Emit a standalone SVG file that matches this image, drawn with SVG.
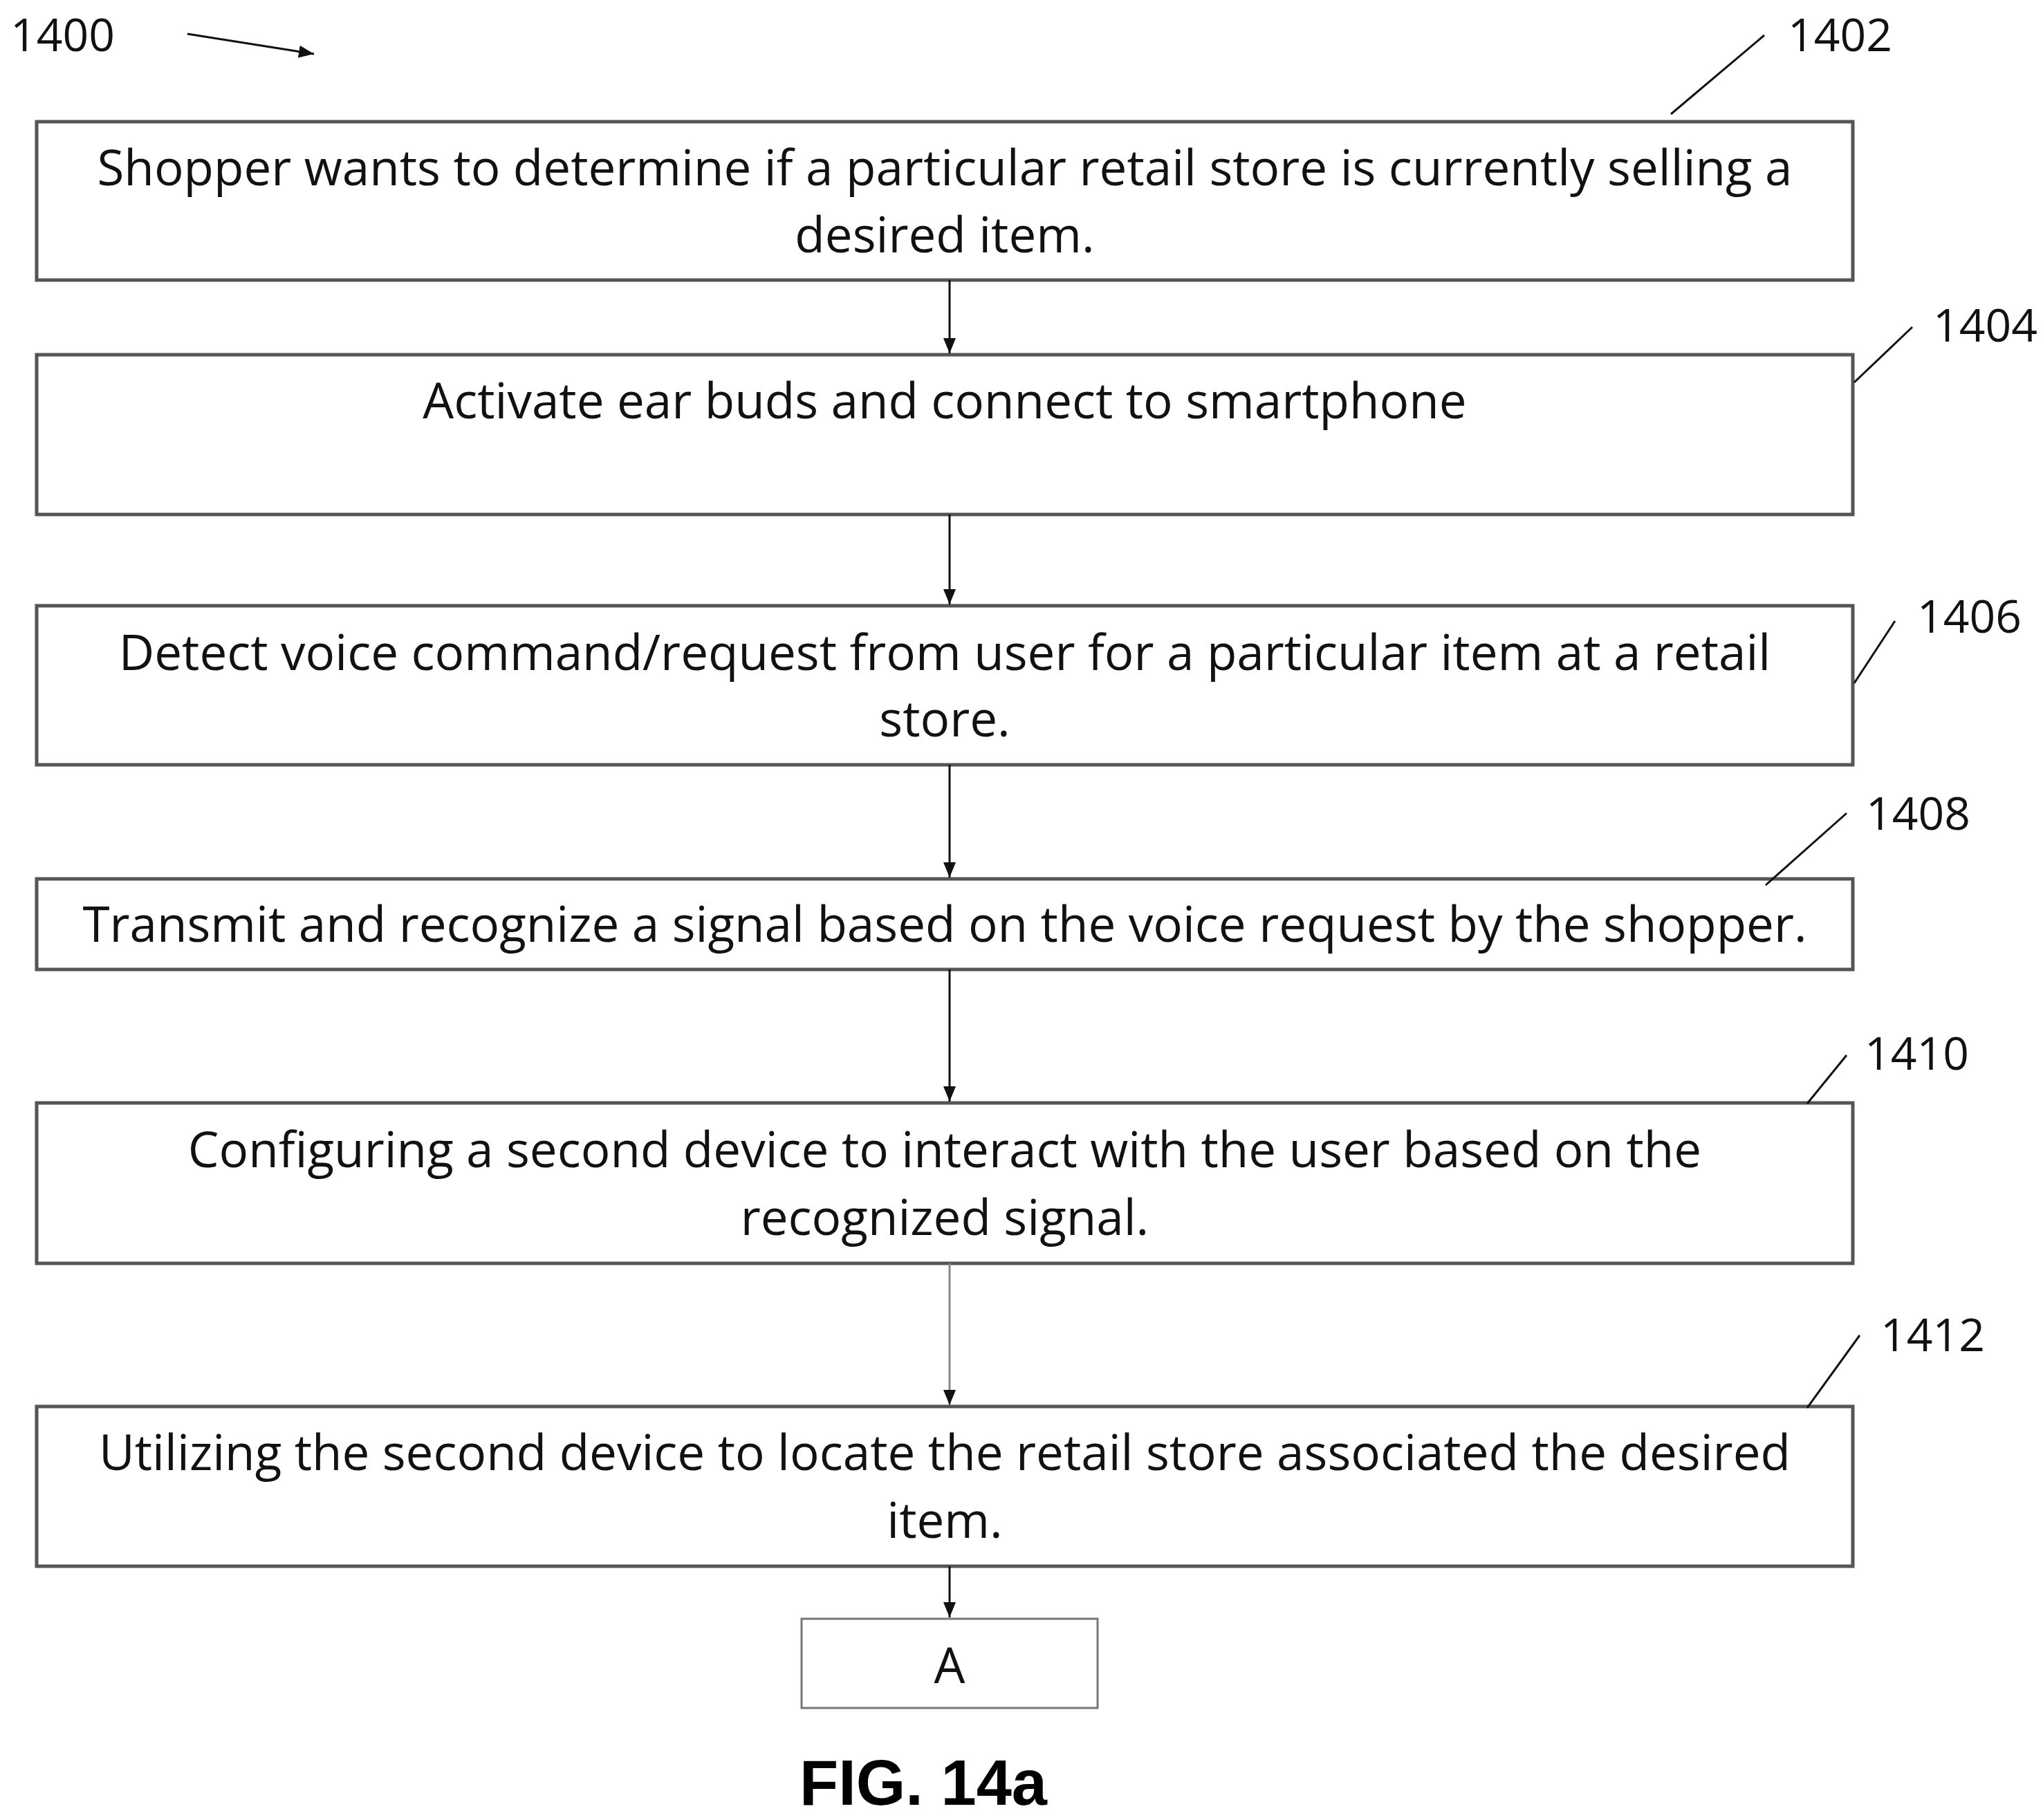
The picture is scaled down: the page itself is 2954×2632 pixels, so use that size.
<svg xmlns="http://www.w3.org/2000/svg" width="2954" height="2632" viewBox="0 0 2954 2632">
<style>
.box{fill:#fff;stroke:#555;stroke-width:5}
.t{font-family:"Open Sans","Liberation Sans",sans-serif;font-size:71px;fill:#111;text-anchor:middle}
.lbl{font-family:"Open Sans","Liberation Sans",sans-serif;font-size:66px;fill:#111}
.c{stroke:#111;stroke-width:3;fill:none}
</style>
<defs>
<marker id="ah2" markerWidth="22" markerHeight="18" refX="22" refY="9" orient="auto" markerUnits="userSpaceOnUse"><path d="M0,0L22,9L0,18z" fill="#111"/></marker></defs>
<rect width="2954" height="2632" fill="#fff"/>
<g id="n1402"><rect class="box" x="53" y="176" width="2626" height="229"/><text class="t" x="1366" y="268">Shopper wants to determine if a particular retail store is currently selling a</text><text class="t" x="1366" y="365">desired item.</text></g>
<g id="n1404"><rect class="box" x="53" y="513" width="2626" height="231"/><text class="t" x="1366" y="605">Activate ear buds and connect to smartphone</text></g>
<g id="n1406"><rect class="box" x="53" y="876" width="2626" height="230"/><text class="t" x="1366" y="969">Detect voice command/request from user for a particular item at a retail</text><text class="t" x="1366" y="1065">store.</text></g>
<g id="n1408"><rect class="box" x="53" y="1271" width="2626" height="131"/><text class="t" x="1366" y="1362">Transmit and recognize a signal based on the voice request by the shopper.</text></g>
<g id="n1410"><rect class="box" x="53" y="1595" width="2626" height="232"/><text class="t" x="1366" y="1688">Configuring a second device to interact with the user based on the</text><text class="t" x="1366" y="1786">recognized signal.</text></g>
<g id="n1412"><rect class="box" x="53" y="2034" width="2626" height="231"/><text class="t" x="1366" y="2126">Utilizing the second device to locate the retail store associated the desired</text><text class="t" x="1366" y="2224">item.</text></g>
<g id="nA"><rect class="box" x="1159" y="2341" width="428" height="129" style="stroke-width:3;stroke:#777"/><text class="t" x="1373" y="2434">A</text></g>
<g id="connectors">
<line class="c" x1="1373" y1="405" x2="1373" y2="511" marker-end="url(#ah2)"/>
<line class="c" x1="1373" y1="744" x2="1373" y2="874" marker-end="url(#ah2)"/>
<line class="c" x1="1373" y1="1106" x2="1373" y2="1269" marker-end="url(#ah2)"/>
<line class="c" x1="1373" y1="1402" x2="1373" y2="1593" marker-end="url(#ah2)"/>
<line class="c" x1="1373" y1="1827" x2="1373" y2="2032" marker-end="url(#ah2)" style="stroke:#888"/>
<line class="c" x1="1373" y1="2265" x2="1373" y2="2339" marker-end="url(#ah2)"/>
</g>
<g id="labels">
<text class="lbl" x="15" y="74">1400</text>
<line class="c" x1="271" y1="49" x2="454" y2="78" marker-end="url(#ah2)"/>
<text class="lbl" x="2585" y="74">1402</text><line class="c" x1="2551" y1="51" x2="2416" y2="165"/>
<text class="lbl" x="2795" y="494">1404</text><line class="c" x1="2765" y1="473" x2="2681" y2="553"/>
<text class="lbl" x="2772" y="915">1406</text><line class="c" x1="2740" y1="898" x2="2681" y2="988"/>
<text class="lbl" x="2698" y="1200">1408</text><line class="c" x1="2670" y1="1176" x2="2553" y2="1280"/>
<text class="lbl" x="2696" y="1547">1410</text><line class="c" x1="2670" y1="1526" x2="2613" y2="1596"/>
<text class="lbl" x="2719" y="1954">1412</text><line class="c" x1="2689" y1="1931" x2="2613" y2="2036"/>
<text x="1335" y="2610" style="font-family:'Liberation Sans',Arial,sans-serif;font-weight:bold;font-size:92px;text-anchor:middle">FIG. 14a</text>
</g>
</svg>
